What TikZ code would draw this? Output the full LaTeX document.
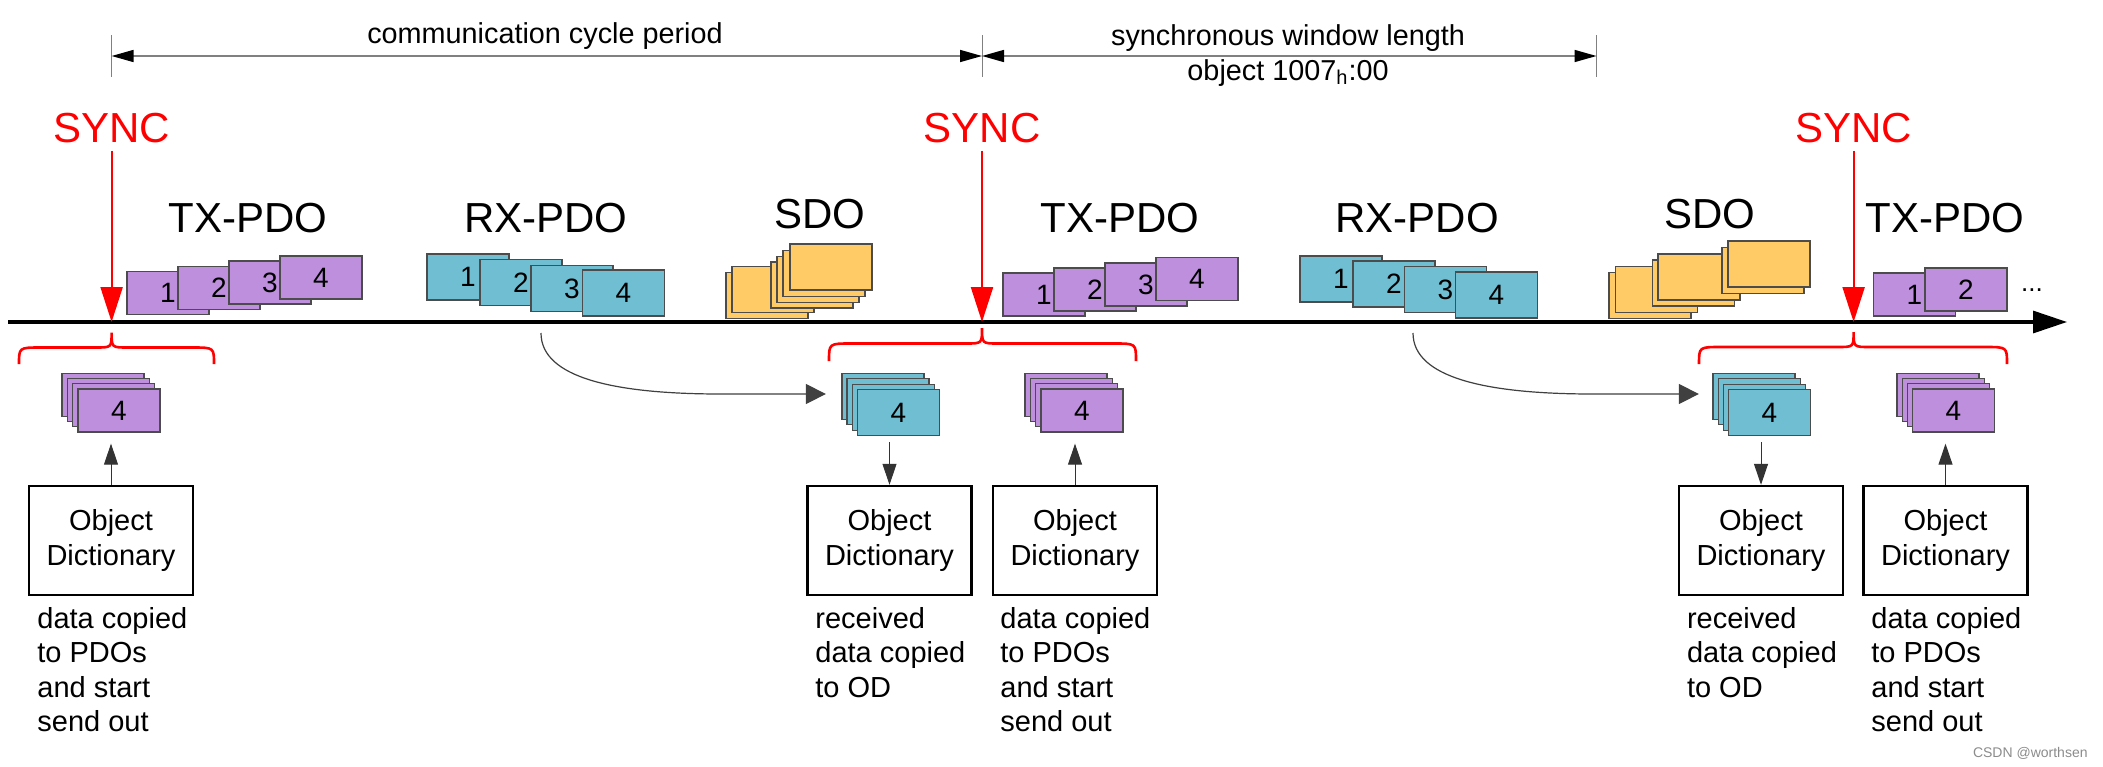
\documentclass[tikz,border=0pt]{standalone}
\usepackage{fontspec}
\setmainfont{Liberation Sans}
\usetikzlibrary{arrows.meta,calc}
\definecolor{pdopurple}{RGB}{190,143,221}
\definecolor{pdoteal}{RGB}{111,190,210}
\definecolor{sdoorange}{RGB}{255,203,102}
\definecolor{syncred}{RGB}{255,0,0}
\begin{document}
\begin{tikzpicture}[x=0.5pt,y=-0.5pt,
 box/.style={draw=black!70, line width=0.65pt, minimum width=41pt, inner sep=0pt, font=\fontsize{14}{14}\selectfont},
 txbox/.style={box, fill=pdopurple, minimum height=21.5pt},
 rxbox/.style={box, fill=pdoteal, minimum height=23pt},
 sdobox/.style={box, fill=sdoorange, minimum height=23pt},
 biglabel/.style={anchor=base, inner sep=0pt, font=\fontsize{21}{21}\selectfont},
 synclabel/.style={biglabel, text=syncred},
 dimtext/.style={anchor=base, inner sep=0pt, font=\fontsize{14.4}{17}\selectfont},
 odbox/.style={draw=black, line width=1.2pt, minimum width=82pt, minimum height=54.5pt, align=center, inner sep=0pt, font=\fontsize{14.5}{17.5}\selectfont},
 desc/.style={anchor=north west, align=left, inner sep=0pt, font=\fontsize{14.5}{17.25}\selectfont},
 syncarrow/.style={draw=syncred, line width=1.1pt, -{Triangle[length=17.5pt,width=11pt]}},
 bracestyle/.style={draw=syncred, line width=1.3pt},
 dimline/.style={draw=black!50, line width=0.75pt, {Triangle[length=11pt,width=6pt,color=black]}-{Triangle[length=11pt,width=6pt,color=black]}},
 tickline/.style={draw=black!50, line width=0.5pt},
 odarrow/.style={draw=black!80, line width=0.5pt, -{Triangle[length=10.5pt,width=7pt]}},
 curvearrow/.style={draw=black!75, line width=0.6pt, -{Triangle[length=10pt,width=10pt]}},
 timeline/.style={draw=black, line width=1.6pt, -{Triangle[length=17pt,width=11pt]}},
]
\useasboundingbox[fill=white] (0,0) rectangle (2103,766);

% dimension lines
\coordinate (d1) at (111.6,56);
\coordinate (d2) at (982,56);
\coordinate (d3) at (1596.5,56);
\draw[tickline] ([yshift=10.5pt]d1) -- ([yshift=-10.5pt]d1);
\draw[tickline] ([yshift=10.5pt]d2) -- ([yshift=-10.5pt]d2);
\draw[tickline] ([yshift=10.5pt]d3) -- ([yshift=-10.5pt]d3);
\draw[dimline] (d1) -- (d2);
\draw[dimline] (d2) -- (d3);
\node[dimtext] (ccp) at (545,43) {communication cycle period};
\node[dimtext] (swl) at (1288,45) {synchronous window length};
\node[dimtext] (obj) at (1288,80) {object 1007\textsubscript{h}:00};

% timeline
\coordinate (tl0) at (8,322);
\coordinate (tl1) at (2067,322);
\draw[timeline] (tl0) -- (tl1);

% SYNC
\node[synclabel] (sync1) at (111.6,142) {SYNC};
\node[synclabel] (sync2) at (982,142) {SYNC};
\node[synclabel] (sync3) at (1853.6,142) {SYNC};
\coordinate (s1) at (111.6,322);
\coordinate (s2) at (982,322);
\coordinate (s3) at (1853.6,322);
\draw[syncarrow] ([yshift=-4pt]sync1.south) -- (s1);
\draw[syncarrow] ([yshift=-4pt]sync2.south) -- (s2);
\draw[syncarrow] ([yshift=-4pt]sync3.south) -- (s3);

% labels
\node[biglabel] (txl1) at (248,232) {TX-PDO};
\node[biglabel] (rxl1) at (546,232) {RX-PDO};
\node[biglabel] (sdol1) at (820,228) {SDO};
\node[biglabel] (txl2) at (1120,232) {TX-PDO};
\node[biglabel] (rxl2) at (1417,232) {RX-PDO};
\node[biglabel] (sdol2) at (1710,228) {SDO};
\node[biglabel] (txl3) at (1945,232) {TX-PDO};

% TX group 1
\node[txbox] (ta1) at (168,293) {1};
\node[txbox] (ta2) at (219,288) {2};
\node[txbox] (ta3) at (270,282.5) {3};
\node[txbox] (ta4) at (321,277.5) {4};
% RX group 1
\node[rxbox] (ra1) at (468,277) {1};
\node[rxbox] (ra2) at (521,282.5) {2};
\node[rxbox] (ra3) at (572,288.5) {3};
\node[rxbox] (ra4) at (623.5,293) {4};
% SDO group 1
\node[sdobox] (sa1) at (767,295.3) {};
\node[sdobox] (sa2) at (773,289.3) {};
\node[sdobox] (sa3) at (812,285) {};
\node[sdobox] (sa4) at (818,279.3) {};
\node[sdobox] (sa5) at (824,273.3) {};
\node[sdobox] (sa6) at (831,267) {};
% TX group 2
\node[txbox] (tb1) at (1044,294.5) {1};
\node[txbox] (tb2) at (1095,289.5) {2};
\node[txbox] (tb3) at (1146,284.5) {3};
\node[txbox] (tb4) at (1197,279) {4};
% RX group 2
\node[rxbox] (rb1) at (1341,279) {1};
\node[rxbox] (rb2) at (1394,284) {2};
\node[rxbox] (rb3) at (1445.5,289.7) {3};
\node[rxbox] (rb4) at (1496.5,295) {4};
% SDO group 2
\node[sdobox] (sb1) at (1650,295.5) {};
\node[sdobox] (sb2) at (1656.5,289.5) {};
\node[sdobox] (sb3) at (1693.5,283) {};
\node[sdobox] (sb4) at (1699,277) {};
\node[sdobox] (sb5) at (1763,270.5) {};
\node[sdobox] (sb6) at (1769,264) {};
% TX group 3
\node[txbox] (tc1) at (1914.5,294.5) {1};
\node[txbox] (tc2) at (1966,289.5) {2};
\node[inner sep=0pt, font=\fontsize{13}{13}\selectfont] (dots) at (2032,290) {...};

% braces
\draw[bracestyle] (19,364) .. controls (19,347.5) .. (41,347.5) -- (95.6,347.5) .. controls (111.6,347.5) .. (111.6,332.5) .. controls (111.6,347.5) .. (127.6,347.5) -- (192,347.5) .. controls (214,347.5) .. (214,364);
\draw[bracestyle] (829,361) .. controls (829,343.5) .. (851,343.5) -- (966,343.5) .. controls (982,343.5) .. (982,328) .. controls (982,343.5) .. (998,343.5) -- (1114,343.5) .. controls (1136,343.5) .. (1136,361);
\draw[bracestyle] (1699,364) .. controls (1699,347) .. (1721,347) -- (1837.6,347) .. controls (1853.6,347) .. (1853.6,332) .. controls (1853.6,347) .. (1869.6,347) -- (1985,347) .. controls (2007,347) .. (2007,364);

% bottom stacks
\node[txbox] (pL1) at (103,395) {};
\node[txbox] (pL2) at (108.3,400) {};
\node[txbox] (pL3) at (113.7,405) {};
\node[txbox] (pL4) at (119,410.5) {4};
\node[rxbox] (tM1) at (883,396.5) {};
\node[rxbox] (tM2) at (888,401.8) {};
\node[rxbox] (tM3) at (893.2,407.2) {};
\node[rxbox] (tM4) at (898.5,412.5) {4};
\node[txbox] (pM1) at (1066,395) {};
\node[txbox] (pM2) at (1071.3,400) {};
\node[txbox] (pM3) at (1076.7,405) {};
\node[txbox] (pM4) at (1082,410.5) {4};
\node[rxbox] (tR1) at (1754,396.5) {};
\node[rxbox] (tR2) at (1759.2,401.8) {};
\node[rxbox] (tR3) at (1764.3,407.2) {};
\node[rxbox] (tR4) at (1769.5,412.5) {4};
\node[txbox] (pR1) at (1938,395) {};
\node[txbox] (pR2) at (1943.2,400) {};
\node[txbox] (pR3) at (1948.3,405) {};
\node[txbox] (pR4) at (1953.5,410.5) {4};

% curved arrows
\coordinate (c1) at (541,333);
\coordinate (e1) at ($(tM1.west)+(-15.5,-2.5)$);
\draw[curvearrow] (c1) .. controls +(0,45) and +(-106,0) .. ($(c1 |- e1)+(180,0)$) -- (e1);
\coordinate (c2) at (1413,333);
\coordinate (e2) at ($(tR1.west)+(-13.5,-2.5)$);
\draw[curvearrow] (c2) .. controls +(0,45) and +(-106,0) .. ($(c2 |- e2)+(180,0)$) -- (e2);

% object dictionaries
\node[odbox] (od1) at (111,540.5) {Object\\Dictionary};
\node[odbox] (od2) at (889.5,540.5) {Object\\Dictionary};
\node[odbox] (od3) at (1075,540.5) {Object\\Dictionary};
\node[odbox] (od4) at (1761,540.5) {Object\\Dictionary};
\node[odbox] (od5) at (1945.5,540.5) {Object\\Dictionary};

\draw[odarrow] (od1.north) -- ($(od1.north |- pL4.south)+(0,11)$);
\draw[odarrow] ($(od2.north |- tM4.south)+(0,6)$) -- (od2.north);
\draw[odarrow] (od3.north) -- ($(od3.north |- pM4.south)+(0,11)$);
\draw[odarrow] ($(od4.north |- tR4.south)+(0,6)$) -- (od4.north);
\draw[odarrow] (od5.north) -- ($(od5.north |- pR4.south)+(0,11)$);

% descriptions
\node[desc] (dl1) at (37,607) {data copied\\to PDOs\\and start\\send out};
\node[desc] (dm1) at (815,607) {received\\data copied\\to OD};
\node[desc] (dm2) at (1000,607) {data copied\\to PDOs\\and start\\send out};
\node[desc] (dr1) at (1686.6,607) {received\\data copied\\to OD};
\node[desc] (dr2) at (1871,607) {data copied\\to PDOs\\and start\\send out};

\node[text=black!45, font=\fontsize{7}{7}\selectfont, anchor=base east, inner sep=0pt] (wm) at (2088,757) {CSDN @worthsen};
\end{tikzpicture}
\end{document}
